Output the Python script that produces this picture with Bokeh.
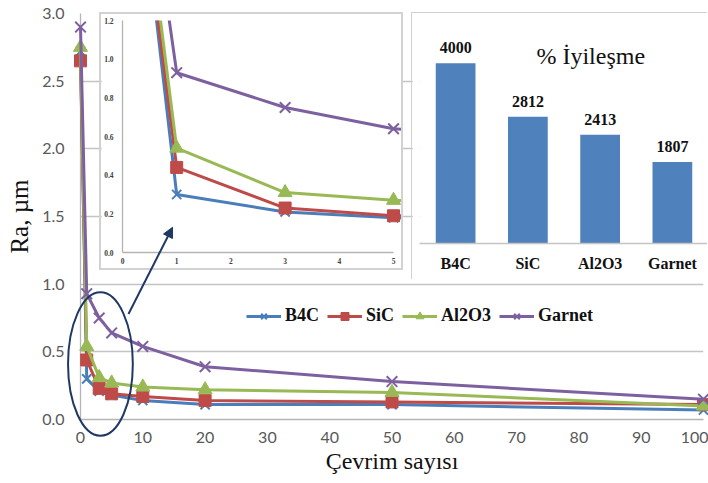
from bokeh.plotting import figure
from bokeh.models import (Range1d, FactorRange, Legend, LegendItem, Label, LabelSet,
                          Arrow, NormalHead, ColumnDataSource, FixedTicker,
                          NumeralTickFormatter, Column)
from bokeh.embed import file_html
from bokeh.resources import INLINE
from bokeh.core.properties import value

# ---------------- data ----------------
cycles = [0, 1, 3, 5, 10, 20, 50, 100]
ra_b4c = [2.72, 0.30, 0.21, 0.18, 0.14, 0.11, 0.11, 0.07]
ra_sic = [2.65, 0.44, 0.23, 0.19, 0.17, 0.14, 0.13, 0.11]
ra_al2o3 = [2.75, 0.54, 0.31, 0.27, 0.24, 0.22, 0.20, 0.10]
ra_garnet = [2.90, 0.93, 0.75, 0.64, 0.54, 0.39, 0.28, 0.15]

series_names = ["B4C", "SiC", "Al2O3", "Garnet"]
improvement = [4000, 2812, 2413, 1807]
improvement_labels = ["4000", "2812", "2413", "1807"]

x_ticks = [0, 10, 20, 30, 40, 50, 60, 70, 80, 90, 100]
y_ticks = [0.0, 0.5, 1.0, 1.5, 2.0, 2.5, 3.0]
inset_x_ticks = [0, 1, 2, 3, 4, 5]
inset_y_ticks = [0.0, 0.2, 0.4, 0.6, 0.8, 1.0, 1.2]

# ---------------- style ----------------
SERIES = [ra_b4c, ra_sic, ra_al2o3, ra_garnet]
COLORS = ["#4A7EBB", "#BE4B48", "#98B954", "#7D60A0"]
MARKERS = ["x", "square", "triangle", "x"]
MSIZE = [13, 12, 14, 15]
SERIF = "Liberation Serif"
SANS = "Lato"
NAVY = "#1F3864"

W, H = 708, 483
ML, MR, MT, MB = 80, 5, 13, 64
FW, FH = W - ML - MR, H - MT - MB

# ---------------- main axes ----------------
main = figure(frame_width=FW, frame_height=FH, title=None, x_range=Range1d(0, 100),
              y_range=Range1d(0, 3), frame_align=False,
              output_backend="svg", toolbar_location=None,
              min_border_left=ML, min_border_right=MR, min_border_top=MT, min_border_bottom=MB,
              background_fill_color="white", border_fill_color="white", outline_line_color=None)
main.xgrid.visible = False
main.ygrid.grid_line_color = "#c4c4c4"
main.ygrid.grid_line_width = 1.3
main.xaxis.ticker = FixedTicker(ticks=x_ticks)
main.yaxis.ticker = FixedTicker(ticks=y_ticks)
main.yaxis.formatter = NumeralTickFormatter(format="0.0")
for ax in main.axis:
    ax.major_tick_line_color = None
    ax.minor_tick_line_color = None
    ax.major_tick_out = 0
    ax.major_tick_in = 0
    ax.major_label_text_font = SANS
    ax.major_label_text_font_size = "16px"
    ax.major_label_text_color = "#595959"
    ax.axis_line_color = "#b4b4b4"
    ax.axis_line_width = 1.3
    ax.axis_label_text_font = SERIF
    ax.axis_label_text_font_style = "normal"
    ax.axis_label_text_color = "#111111"
main.yaxis.major_label_standoff = 16
main.xaxis.major_label_standoff = 12
main.xaxis.axis_label = "Çevrim sayısı"
main.xaxis.axis_label_text_font_size = "24px"
main.xaxis.axis_label_standoff = 2
main.yaxis.axis_label = "Ra, µm"
main.yaxis.axis_label_text_font_size = "25px"
main.yaxis.axis_label_standoff = 6

# ---------------- inset (0-5 cycles) ----------------
IW, IH = 304, 258
IML, IMR, IMT, IMB = 21, 0, 6, 20
inset_frame_w_5 = 271.0
inset = figure(width=IW, height=IH, title=None, frame_align=False,
               x_range=Range1d(0, 5 * (IW - IML - IMR) / inset_frame_w_5),
               y_range=Range1d(0, 1.2),
               output_backend="svg", toolbar_location=None,
               min_border_left=IML, min_border_right=IMR, min_border_top=IMT, min_border_bottom=IMB,
               background_fill_color="white", border_fill_color="white", outline_line_color=None,
               styles={"position": "absolute", "left": "99px", "top": "12px",
                       "border": "2px solid #d2d2d2"})
inset.grid.visible = False
inset.xaxis.ticker = FixedTicker(ticks=inset_x_ticks)
inset.yaxis.ticker = FixedTicker(ticks=inset_y_ticks)
inset.yaxis.formatter = NumeralTickFormatter(format="0.0")
inset.xaxis.bounds = (0, 5)
for ax in inset.axis:
    ax.major_tick_line_color = None
    ax.minor_tick_line_color = None
    ax.major_tick_out = 0
    ax.major_tick_in = 0
    ax.major_label_text_font = SERIF
    ax.major_label_text_font_style = "bold"
    ax.major_label_text_font_size = "7.5px"
    ax.major_label_text_color = "#404040"
    ax.axis_line_color = "#b4b4b4"
    ax.axis_line_width = 1.3
inset.xaxis.major_label_standoff = 5
inset.yaxis.major_label_standoff = 9
for vals, col, mk, ms in zip(SERIES, COLORS, MARKERS, MSIZE):
    inset.line(cycles, vals, line_color=col, line_width=3)
    inset.scatter(cycles, vals, marker=mk, size=ms, fill_color=col, line_color=col,
                  line_width=2 if mk == "x" else 1)

# ---------------- bar chart (% improvement) ----------------
BW, BH = 296, 267
bars = figure(width=BW, height=BH, title=None, x_range=FactorRange(factors=series_names),
              y_range=Range1d(0, 4950), output_backend="svg", toolbar_location=None,
              y_axis_location=None, frame_align=False,
              min_border_left=7, min_border_right=0, min_border_top=7, min_border_bottom=37,
              background_fill_color="white", border_fill_color="white", outline_line_color=None,
              styles={"position": "absolute", "left": "411px", "top": "12px",
                      "border-left": "1px solid #d2d2d2", "border-top": "1px solid #d2d2d2"})
bars.grid.visible = False
bsrc = ColumnDataSource(dict(m=series_names, v=improvement, t=improvement_labels))
bars.vbar(x="m", top="v", width=0.55, source=bsrc, fill_color="#4F81BD", line_color=None)
bars.xaxis.major_tick_line_color = None
bars.xaxis.major_tick_out = 0
bars.xaxis.axis_line_color = "#c4c4c4"
bars.xaxis.axis_line_width = 1.3
bars.xaxis.major_label_text_font = SERIF
bars.xaxis.major_label_text_font_style = "bold"
bars.xaxis.major_label_text_font_size = "16px"
bars.xaxis.major_label_text_color = "#111111"
bars.xaxis.major_label_standoff = 11
bars.add_layout(LabelSet(x="m", y="v", text="t", source=bsrc, y_offset=10,
                         text_align="center", text_baseline="alphabetic",
                         text_font=value(SERIF), text_font_style="bold",
                         text_font_size="16px", text_color="#111111"))
bars.add_layout(Label(x=2.37, y=4173, text="% İyileşme", text_align="center",
                      text_baseline="alphabetic", text_font=SERIF, text_font_size="24px",
                      text_color="#111111"))

# ---------------- overlay with the series (same mapping as main axes) ----------------
ppx = FW / 100.0
ppy = FH / 3.0
over = figure(width=W, height=H, title=None, frame_align=False,
              x_range=Range1d(-ML / ppx, 100 + MR / ppx),
              y_range=Range1d(-MB / ppy, 3 + MT / ppy),
              output_backend="svg", toolbar_location=None,
              x_axis_location=None, y_axis_location=None,
              min_border_left=0, min_border_right=0, min_border_top=0, min_border_bottom=0,
              outline_line_color=None,
              styles={"position": "absolute", "left": "0px", "top": "0px"})
over.background_fill_alpha = 0
over.border_fill_alpha = 0
over.grid.visible = False

items = []
for name, vals, col, mk, ms in zip(series_names, SERIES, COLORS, MARKERS, MSIZE):
    lr = over.line(cycles, vals, line_color=col, line_width=3)
    sr = over.scatter(cycles, vals, marker=mk, size=ms, fill_color=col, line_color=col,
                      line_width=2 if mk == "x" else 1)
    items.append(LegendItem(label=name, renderers=[lr, sr]))

legend = Legend(items=items, orientation="horizontal", location=(246, 157),
                glyph_width=35, glyph_height=20, label_height=20, label_standoff=4,
                spacing=8, padding=4, margin=0, border_line_color=None,
                background_fill_alpha=0, label_text_font=SERIF,
                label_text_font_style="bold", label_text_font_size="18px",
                label_text_color="#111111")
over.add_layout(legend)

over.ellipse(x=[3.2], y=[0.41], width=10.4, height=1.06, fill_color=None,
             line_color=NAVY, line_width=2)
over.add_layout(Arrow(x_start=7.7, y_start=0.78, x_end=14.77, y_end=1.42,
                      line_color=NAVY, line_width=2,
                      end=NormalHead(size=10, fill_color=NAVY, line_color=NAVY)))

root = Column(children=[main, inset, bars, over], width=W, height=H, spacing=0,
              styles={"position": "relative", "overflow": "hidden"})

open("out.html", "w").write(file_html(root, INLINE))
